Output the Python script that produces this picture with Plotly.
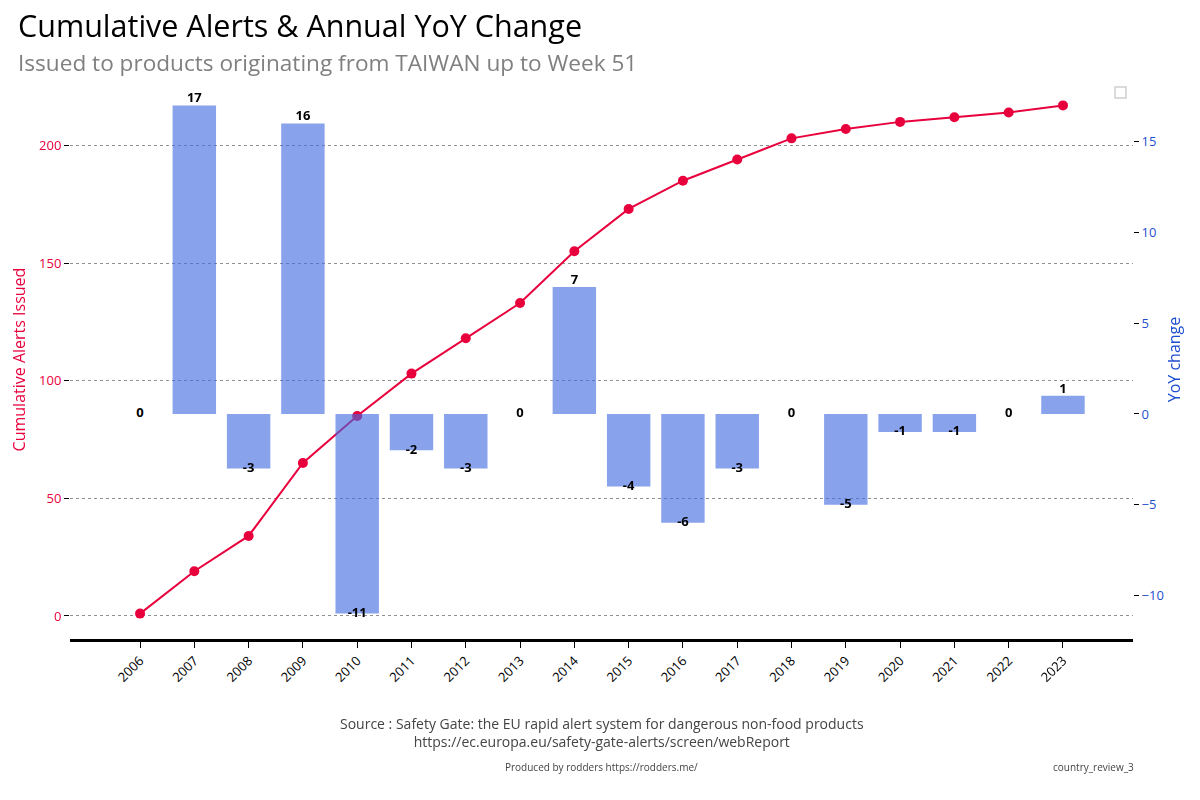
import plotly.graph_objects as go

years = [2006, 2007, 2008, 2009, 2010, 2011, 2012, 2013, 2014, 2015, 2016, 2017, 2018, 2019, 2020, 2021, 2022, 2023]
cumulative = [1, 19, 34, 65, 85, 103, 118, 133, 155, 173, 185, 194, 203, 207, 210, 212, 214, 217]
yoy = [0, 17, -3, 16, -11, -2, -3, 0, 7, -4, -6, -3, 0, -5, -1, -1, 0, 1]

LINE_C = "#e8003d"
BAR_C = "royalblue"
RIGHT_C = "#1f4fd0"
FONT = "Open Sans"

# page body has an 8px margin: figure is 1184x784 drawn at (8,8)
W, H = 1184, 784
PL, PR, PT, PB = 62, 1125, 72, 631  # plot area in figure pixels
PW, PH = PR - PL, PB - PT

def px(xfig):
    return (xfig - PL) / PW

def py(yfig):
    return (PB - yfig) / PH

fig = go.Figure()

fig.add_trace(go.Scatter(
    x=years, y=cumulative, mode="lines+markers", yaxis="y",
    line=dict(color=LINE_C, width=2), marker=dict(color=LINE_C, size=10),
    showlegend=False, hoverinfo="skip"))

fig.add_trace(go.Bar(
    x=years, y=yoy, yaxis="y2", width=0.8,
    marker=dict(color=BAR_C, line=dict(width=0)), opacity=0.62,
    showlegend=False))

pos_x = [x for x, v in zip(years, yoy) if v > 0]
pos_v = [v for v in yoy if v > 0]
neg_x = [x for x, v in zip(years, yoy) if v <= 0]
neg_v = [v for v in yoy if v <= 0]

fig.add_trace(go.Scatter(
    x=pos_x, y=pos_v, yaxis="y2", mode="text", text=[str(v) for v in pos_v],
    textposition="top center", cliponaxis=False,
    textfont=dict(family=FONT, size=13, color="black", weight="bold"),
    showlegend=False, hoverinfo="skip"))
fig.add_trace(go.Scatter(
    x=neg_x, y=neg_v, yaxis="y2", mode="text", text=[str(v) for v in neg_v],
    textposition="middle center", cliponaxis=False,
    textfont=dict(family=FONT, size=13, color="black", weight="bold"),
    showlegend=False, hoverinfo="skip"))

fig.update_layout(
    width=W, height=H,
    margin=dict(l=PL, r=W - PR, t=PT, b=H - PB, autoexpand=False),
    paper_bgcolor="white", plot_bgcolor="white",
    font=dict(family=FONT, size=13, color="black"),
    title=dict(text="Cumulative Alerts & Annual YoY Change", x=10 / W, xanchor="left",
               xref="container", y=1 - 18 / H, yref="container", yanchor="middle",
               font=dict(family=FONT, size=30.5, color="black")),
    xaxis=dict(range=[2004.71, 2024.29], tickmode="array", tickvals=years,
               ticktext=[str(y) for y in years], tickangle=-45,
               ticks="outside", ticklen=6, tickcolor="black",
               showline=True, linewidth=3, linecolor="black",
               showgrid=False, zeroline=False, automargin=False,
               tickfont=dict(size=13, color="black")),
    yaxis=dict(range=[-9.8, 227.8], tickmode="array", tickvals=[0, 50, 100, 150, 200],
               ticks="outside", ticklen=5, tickcolor="black",
               showline=False, zeroline=False, automargin=False,
               showgrid=True, gridcolor="#909090", griddash="dot", gridwidth=1,
               tickfont=dict(size=13, color=LINE_C),
               title=dict(text="Cumulative Alerts Issued", font=dict(size=16, color=LINE_C), standoff=15)),
    yaxis2=dict(range=[-12.4, 18.4], overlaying="y", side="right",
                tickmode="array", tickvals=[-10, -5, 0, 5, 10, 15],
                ticks="outside", ticklen=5, tickcolor="black",
                showline=False, zeroline=False, showgrid=False, automargin=False,
                tickfont=dict(size=13, color=RIGHT_C),
                title=dict(text="YoY change", font=dict(size=16, color=RIGHT_C), standoff=5)),
    bargap=0.2,
)

fig.add_annotation(text="Issued to products originating from TAIWAN up to Week 51",
                   xref="paper", yref="paper", x=px(8), y=py(54),
                   xanchor="left", yanchor="middle", showarrow=False,
                   font=dict(family=FONT, size=22.6, color="#808080"))
fig.add_annotation(text="Source : Safety Gate: the EU rapid alert system for dangerous non-food products<br>https://ec.europa.eu/safety-gate-alerts/screen/webReport",
                   xref="paper", yref="paper", x=0.5, y=py(724),
                   xanchor="center", yanchor="middle", showarrow=False,
                   font=dict(family=FONT, size=14, color="#444444"))
fig.add_annotation(text="Produced by rodders https://rodders.me/",
                   xref="paper", yref="paper", x=0.5, y=py(759),
                   xanchor="center", yanchor="middle", showarrow=False,
                   font=dict(family=FONT, size=10, color="#444444"))
fig.add_annotation(text="country_review_3",
                   xref="paper", yref="paper", x=1, y=py(759), xshift=3,
                   xanchor="right", yanchor="middle", showarrow=False,
                   font=dict(family=FONT, size=10, color="#444444"))

fig.add_shape(type="rect", xref="paper", yref="paper",
              x0=px(1107), x1=px(1118), y0=py(90), y1=py(79),
              line=dict(color="#d0d0d0", width=1.5), fillcolor="white")

fig.write_html("out.html")
